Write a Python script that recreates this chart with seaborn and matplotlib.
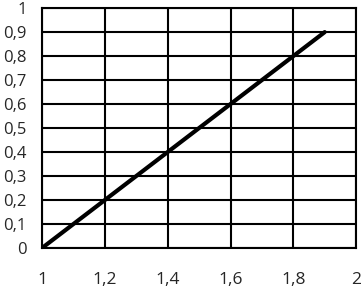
import seaborn as sns
import matplotlib.pyplot as plt
from matplotlib.ticker import FuncFormatter

# data
x_vals = [1.0, 1.1, 1.2, 1.3, 1.4, 1.5, 1.6, 1.7, 1.8, 1.9]
y_vals = [0.0, 0.1, 0.2, 0.3, 0.4, 0.5, 0.6, 0.7, 0.8, 0.9]
x_ticks = [1.0, 1.2, 1.4, 1.6, 1.8, 2.0]
y_ticks = [0.0, 0.1, 0.2, 0.3, 0.4, 0.5, 0.6, 0.7, 0.8, 0.9, 1.0]

sns.set_style("white")
plt.rcParams['font.family'] = ['Open Sans', 'DejaVu Sans']

fig = plt.figure(figsize=(3.63, 2.90), dpi=100)
ax = fig.add_axes([0.116, 0.145, 0.865, 0.827])

sns.lineplot(x=x_vals, y=y_vals, ax=ax, color="black", linewidth=3,
             solid_capstyle="round")

ax.set_xlim(1, 2)
ax.set_ylim(0, 1)
ax.set_xticks(x_ticks)
ax.set_yticks(y_ticks)

# comma decimal separator
def fmt(v, pos):
    s = ("%.1f" % v).rstrip("0").rstrip(".")
    return s.replace(".", ",")

ax.xaxis.set_major_formatter(FuncFormatter(fmt))
ax.yaxis.set_major_formatter(FuncFormatter(fmt))

ax.grid(True, color="black", linewidth=1.5)
for sp in ax.spines.values():
    sp.set_color("black")
    sp.set_linewidth(1.5)

ax.tick_params(axis="x", length=0, pad=17, labelsize=12.5)
ax.tick_params(axis="y", length=0, pad=11, labelsize=12)

fig.savefig("out.png", dpi=100)
